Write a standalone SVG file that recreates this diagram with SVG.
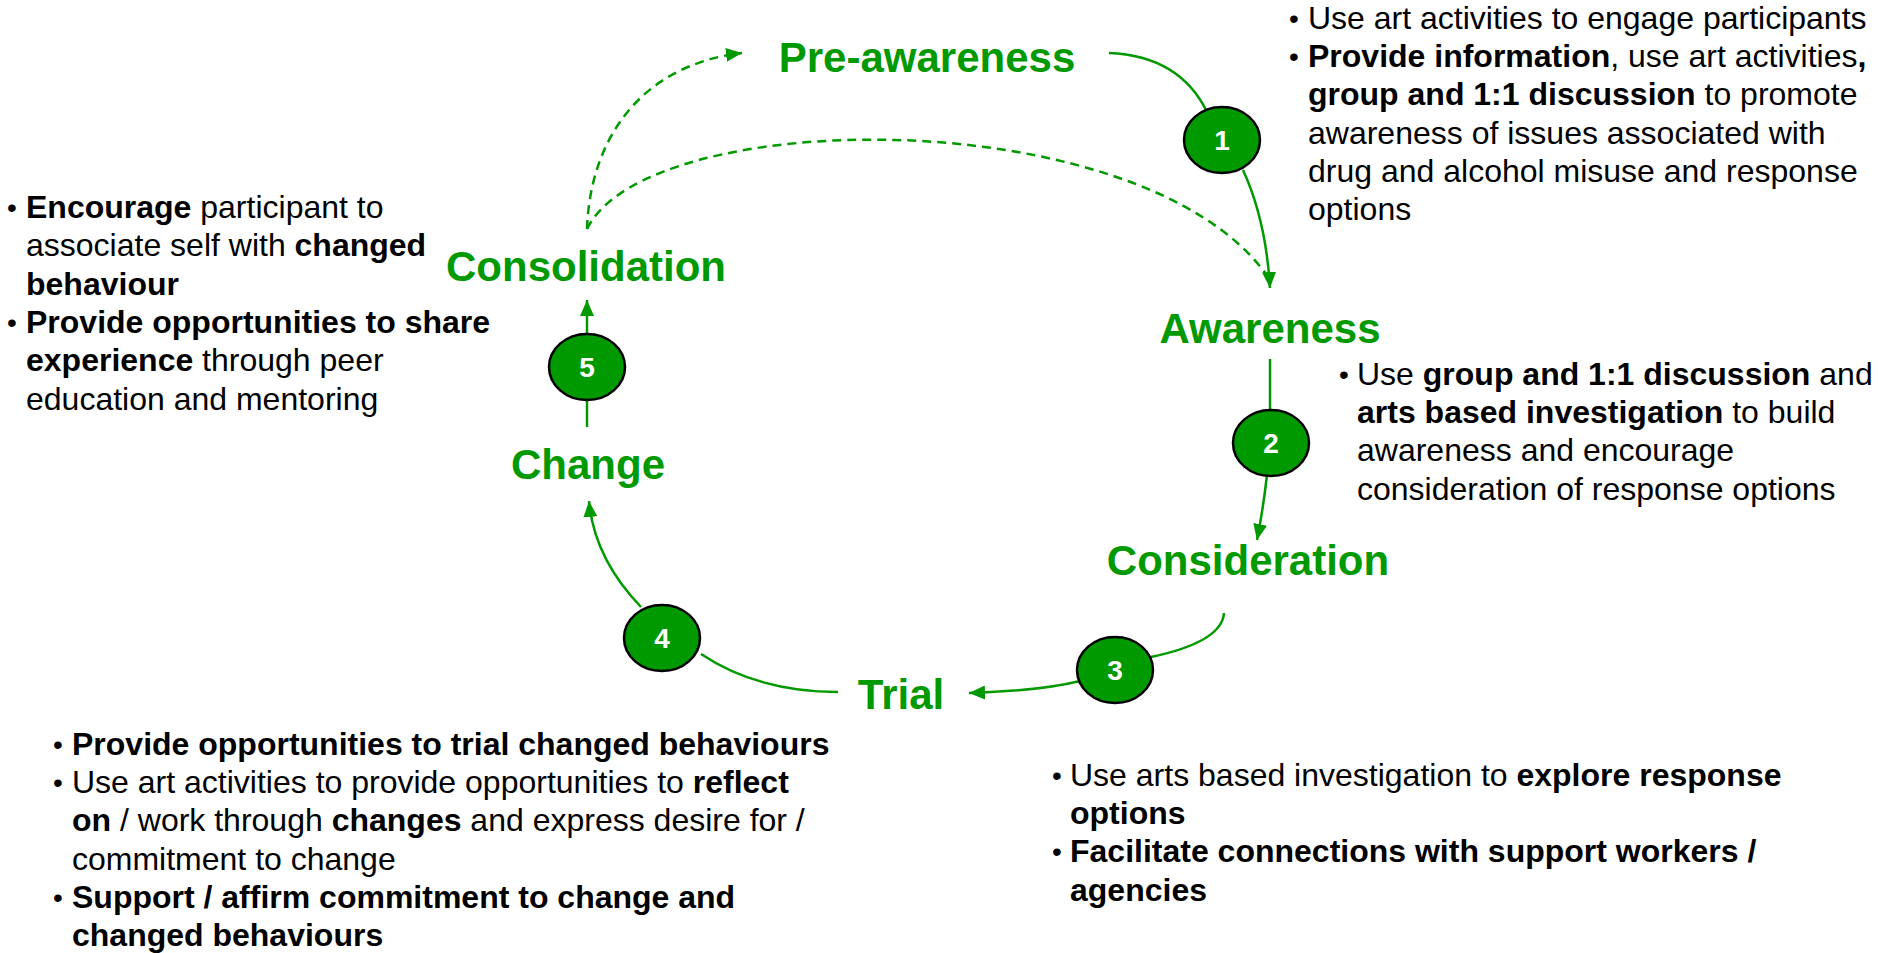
<svg xmlns="http://www.w3.org/2000/svg" width="1878" height="953" viewBox="0 0 1878 953">
<defs>
<marker id="ah" markerUnits="userSpaceOnUse" markerWidth="18" markerHeight="16" refX="16" refY="7" orient="auto">
<path d="M0,0 L16,7 L0,14 z" fill="#009900"/>
</marker>
<style>
.stage{font-family:"Liberation Sans",Arial,sans-serif;font-weight:bold;font-size:42px;fill:#009900;text-anchor:middle}
.num{font-family:"Liberation Sans",Arial,sans-serif;font-weight:bold;font-size:28px;fill:#ffffff;text-anchor:middle}
.circ{fill:#009900;stroke:#000000;stroke-width:2.5}
.txt{font-family:"Liberation Sans",Arial,sans-serif;font-size:32px;fill:#000000}
.bul{font-family:"Liberation Sans",Arial,sans-serif;font-size:28px;fill:#000000}
.b{font-weight:bold}
.ln{fill:none;stroke:#009900;stroke-width:2.5}
.dash{fill:none;stroke:#009900;stroke-width:2.5;stroke-dasharray:9 6}
</style>
</defs>
<rect width="1878" height="953" fill="#ffffff"/>
<g id="connectors">
<path class="ln" d="M1109,53 Q1180,56 1207,112"/>
<path class="ln" d="M1243,170 Q1266,220 1270,288" marker-end="url(#ah)"/>
<path class="dash" d="M587,229 C590,140 640,65 742,53" marker-end="url(#ah)"/>
<path class="dash" d="M587,229 C647,106 1138,100 1266,274"/>
<path class="ln" d="M1270,359 L1270,411"/>
<path class="ln" d="M1267,475 Q1263,510 1257,540" marker-end="url(#ah)"/>
<path class="ln" d="M1224,613 Q1222,642 1151,657"/>
<path class="ln" d="M1080,681 Q1040,691 969,693" marker-end="url(#ah)"/>
<path class="ln" d="M838,692 Q758,692 701,654"/>
<path class="ln" d="M641,607 Q594,558 589,501" marker-end="url(#ah)"/>
<path class="ln" d="M587,427 L587,400"/>
<path class="ln" d="M587,335 L587,300" marker-end="url(#ah)"/>
</g>
<g id="pre-awareness"><text class="stage" x="927" y="72">Pre-awareness</text></g>
<g id="awareness"><text class="stage" x="1270" y="343">Awareness</text></g>
<g id="consideration"><text class="stage" x="1248" y="575">Consideration</text></g>
<g id="trial"><text class="stage" x="901" y="709">Trial</text></g>
<g id="change"><text class="stage" x="588" y="479">Change</text></g>
<g id="consolidation"><text class="stage" x="586" y="281">Consolidation</text></g>
<g id="step1"><ellipse class="circ" cx="1222" cy="140" rx="38" ry="33"/><text class="num" x="1222" y="150">1</text></g>
<g id="step2"><ellipse class="circ" cx="1271" cy="443" rx="38" ry="33"/><text class="num" x="1271" y="453">2</text></g>
<g id="step3"><ellipse class="circ" cx="1115" cy="670" rx="38" ry="33"/><text class="num" x="1115" y="680">3</text></g>
<g id="step4"><ellipse class="circ" cx="662" cy="638" rx="38" ry="33"/><text class="num" x="662" y="648">4</text></g>
<g id="step5"><ellipse class="circ" cx="587" cy="367" rx="38" ry="33"/><text class="num" x="587" y="377">5</text></g>
<g id="notes-pre-awareness">
<text class="bul" x="1289" y="28">•</text>
<text class="txt" x="1308" y="29">Use art activities to engage participants</text>
<text class="bul" x="1289" y="66">•</text>
<text class="txt" x="1308" y="67"><tspan class="b">Provide information</tspan>, use art activities<tspan class="b">,</tspan></text>
<text class="txt" x="1308" y="105"><tspan class="b">group and 1:1 discussion</tspan> to promote</text>
<text class="txt" x="1308" y="144">awareness of issues associated with</text>
<text class="txt" x="1308" y="182">drug and alcohol misuse and response</text>
<text class="txt" x="1308" y="220">options</text>
</g>
<g id="notes-awareness">
<text class="bul" x="1339" y="384">•</text>
<text class="txt" x="1357" y="385">Use <tspan class="b">group and 1:1 discussion</tspan> and</text>
<text class="txt" x="1357" y="423"><tspan class="b">arts based investigation</tspan> to build</text>
<text class="txt" x="1357" y="461">awareness and encourage</text>
<text class="txt" x="1357" y="500">consideration of response options</text>
</g>
<g id="notes-consolidation">
<text class="bul" x="7" y="217">•</text>
<text class="txt" x="26" y="218"><tspan class="b">Encourage</tspan> participant to</text>
<text class="txt" x="26" y="256">associate self with <tspan class="b">changed</tspan></text>
<text class="txt" x="26" y="295"><tspan class="b">behaviour</tspan></text>
<text class="bul" x="7" y="332">•</text>
<text class="txt" x="26" y="333"><tspan class="b">Provide opportunities to share</tspan></text>
<text class="txt" x="26" y="371"><tspan class="b">experience</tspan> through peer</text>
<text class="txt" x="26" y="410">education and mentoring</text>
</g>
<g id="notes-trial">
<text class="bul" x="53" y="754">•</text>
<text class="txt" x="72" y="755"><tspan class="b">Provide opportunities to trial changed behaviours</tspan></text>
<text class="bul" x="53" y="792">•</text>
<text class="txt" x="72" y="793">Use art activities to provide opportunities to <tspan class="b">reflect</tspan></text>
<text class="txt" x="72" y="831"><tspan class="b">on</tspan> / work through <tspan class="b">changes</tspan> and express desire for /</text>
<text class="txt" x="72" y="870">commitment to change</text>
<text class="bul" x="53" y="907">•</text>
<text class="txt" x="72" y="908"><tspan class="b">Support / affirm commitment to change and</tspan></text>
<text class="txt" x="72" y="946"><tspan class="b">changed behaviours</tspan></text>
</g>
<g id="notes-consideration">
<text class="bul" x="1052" y="785">•</text>
<text class="txt" x="1070" y="786">Use arts based investigation to <tspan class="b">explore response</tspan></text>
<text class="txt" x="1070" y="824"><tspan class="b">options</tspan></text>
<text class="bul" x="1052" y="861">•</text>
<text class="txt" x="1070" y="862"><tspan class="b">Facilitate connections with support workers /</tspan></text>
<text class="txt" x="1070" y="901"><tspan class="b">agencies</tspan></text>
</g>
</svg>
